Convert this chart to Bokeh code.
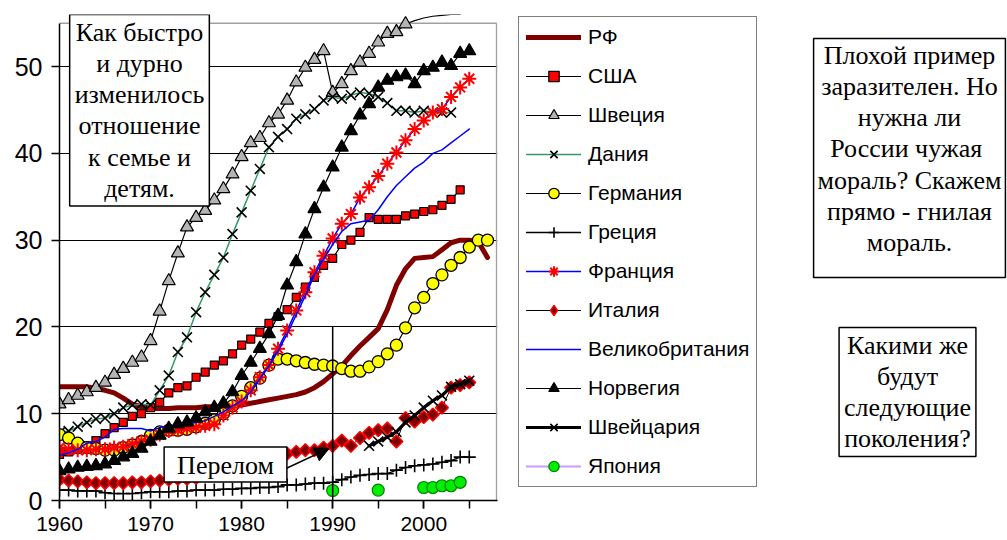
import math
from bokeh.plotting import figure
from bokeh.layouts import row
from bokeh.models import (Range1d, FixedTicker, Legend, LegendItem, Label, Arrow, NormalHead)
from bokeh.embed import file_html
from bokeh.resources import INLINE

# ---------------- data (share of births outside marriage, %) ----------------
YEARS_RF = list(range(1960, 2008))
RF = [13.1, 13.1, 13.1, 13.1, 12.9, 12.7, 12.4, 11.8, 11.1, 10.8,
      10.6, 10.6, 10.6, 10.7, 10.7, 10.7, 10.8, 10.8, 10.8, 10.9,
      11.0, 11.2, 11.4, 11.6, 11.8, 12.0, 12.2, 12.5, 13.0, 13.7,
      14.6, 15.5, 16.7, 17.8, 18.8, 19.8, 22.0, 24.8, 26.7, 27.9,
      28.0, 28.1, 28.9, 29.7, 30.0, 30.0, 29.8, 28.0]

YEARS_USA = list(range(1960, 2005))
USA = [5.3, 5.6, 5.9, 6.3, 6.9, 7.7, 8.4, 9.0, 9.7, 10.0,
       10.7, 11.3, 12.4, 13.0, 13.2, 14.2, 14.8, 15.6, 16.1, 16.9,
       17.9, 18.6, 19.4, 20.4, 21.2, 22.0, 23.4, 24.6, 25.7, 27.1,
       27.9, 29.5, 30.0, 30.9, 32.6, 32.4, 32.4, 32.4, 32.8, 33.0,
       33.3, 33.5, 34.0, 34.7, 35.8]

YEARS_SWE = list(range(1960, 2005))
SWE = [11.1, 11.6, 12.1, 12.5, 13.0, 13.6, 14.5, 15.2, 15.9, 16.5,
       18.4, 21.8, 25.3, 28.5, 31.5, 32.6, 33.4, 34.6, 35.9, 37.6,
       39.6, 41.2, 41.8, 43.5, 44.5, 46.1, 48.2, 49.9, 50.8, 51.8,
       47.0, 48.0, 49.5, 50.5, 51.5, 52.8, 53.8, 54.0, 54.9, 55.3,
       55.6, 55.8, 55.9, 56.0, 56.0]
SWE_LAST_MARKER_YEAR = 1998

YEARS_DEN = list(range(1960, 2004))
DEN = [7.8, 8.0, 8.5, 9.0, 9.4, 9.5, 10.0, 10.7, 11.0, 11.1,
       11.0, 12.7, 14.4, 17.1, 18.8, 21.7, 24.0, 26.0, 28.0, 30.7,
       33.2, 35.7, 38.2, 40.7, 41.9, 42.8, 44.0, 44.5, 45.1, 46.1,
       46.5, 46.3, 46.7, 47.0, 46.9, 46.5, 45.8, 44.9, 44.9, 44.7,
       44.9, 44.7, 44.7, 44.7]

YEARS_GER = list(range(1960, 2008))
GER = [7.6, 7.2, 6.6, 6.1, 6.0, 5.8, 5.8, 6.1, 6.4, 6.8,
       7.5, 7.9, 8.1, 8.1, 8.2, 8.5, 8.9, 9.3, 10.0, 10.9,
       12.0, 13.0, 14.1, 15.6, 16.3, 16.3, 16.1, 15.9, 15.7, 15.6,
       15.5, 15.2, 14.9, 14.9, 15.4, 16.0, 16.9, 17.9, 19.9, 22.2,
       23.4, 25.0, 26.0, 27.1, 28.0, 29.2, 30.0, 30.0]

YEARS_GRE = list(range(1960, 2006))
GRE = [1.2, 1.2, 1.1, 1.1, 1.1, 0.9, 0.8, 0.8, 0.8, 0.9,
       1.0, 1.0, 1.0, 1.1, 1.1, 1.2, 1.2, 1.2, 1.3, 1.3,
       1.4, 1.4, 1.5, 1.5, 1.6, 1.8, 1.8, 1.9, 2.0, 2.0,
       2.1, 2.4, 2.7, 2.9, 3.0, 3.1, 3.1, 3.5, 3.8, 4.0,
       4.1, 4.2, 4.4, 4.6, 5.0, 5.0]

YEARS_FRA = list(range(1960, 2006))
FRA = [6.1, 5.9, 5.8, 5.8, 5.9, 5.9, 6.1, 6.2, 6.5, 6.8,
       7.0, 7.6, 8.0, 8.1, 8.3, 8.4, 8.6, 8.8, 9.8, 10.7,
       11.4, 12.7, 14.2, 15.6, 17.5, 19.6, 21.9, 24.0, 26.3, 28.2,
       30.2, 31.9, 33.0, 34.9, 36.1, 37.4, 38.8, 40.1, 41.5, 42.8,
       43.8, 44.7, 45.1, 46.5, 47.6, 48.6]

YEARS_ITA = list(range(1960, 2006))
ITA = [2.4, 2.3, 2.2, 2.1, 2.0, 2.0, 2.0, 2.0, 2.1, 2.1,
       2.2, 2.3, 2.4, 2.5, 2.5, 2.6, 2.9, 3.2, 3.6, 4.0,
       4.3, 4.5, 4.8, 5.0, 5.1, 5.4, 5.6, 5.8, 5.8, 6.1,
       6.3, 6.9, 6.3, 7.2, 7.8, 8.1, 8.3, 6.8, 9.5, 9.1,
       9.6, 9.9, 10.7, 13.0, 13.3, 13.6]

YEARS_UK = list(range(1960, 2006))
UK = [5.2, 5.5, 5.9, 6.6, 6.8, 7.3, 8.2, 8.3, 8.3, 8.3,
      8.0, 8.4, 8.6, 8.6, 8.8, 9.0, 9.2, 9.7, 10.2, 10.9,
      11.5, 12.5, 14.0, 15.5, 17.2, 19.2, 21.4, 23.6, 26.0, 27.8,
      29.5, 31.0, 31.9, 32.1, 32.3, 33.5, 35.0, 36.3, 37.3, 38.3,
      39.0, 40.0, 40.4, 41.2, 42.0, 42.8]

YEARS_NOR = list(range(1960, 2006))
NOR = [3.4, 3.6, 3.8, 3.9, 4.0, 4.2, 4.6, 5.0, 5.4, 6.0,
       6.8, 7.5, 8.3, 8.8, 9.0, 9.5, 10.2, 10.7, 11.2, 12.5,
       14.4, 15.9, 17.5, 19.2, 21.3, 24.8, 27.5, 30.7, 33.6, 36.1,
       38.4, 40.7, 42.6, 44.4, 45.7, 47.6, 48.4, 48.8, 49.0, 48.0,
       49.5, 49.9, 50.5, 50.1, 51.5, 51.8]

YEARS_SUI = list(range(1994, 2006))
SUI = [6.3, 6.8, 7.3, 7.9, 9.0, 9.8, 10.7, 11.5, 12.1, 13.1, 13.4, 13.8]

YEARS_JPN = [1990, 1995, 2000, 2001, 2002, 2003, 2004]
JPN = [1.15, 1.2, 1.5, 1.5, 1.7, 1.7, 2.1]

NAMES = ["РФ", "США", "Швеция", "Дания", "Германия", "Греция", "Франция",
         "Италия", "Великобритания", "Норвегия", "Швейцария", "Япония"]

X_TICKS = [1960, 1970, 1980, 1990, 2000]
X_MINOR = [1960, 1965, 1970, 1975, 1980, 1985, 1990, 1995, 2000, 2005]
Y_TICKS = [0, 10, 20, 30, 40, 50]
X_START, X_END = 1960, 2008      # plot-area frame (grey border)
Y_TOP = 55

BREAK_YEAR = 1990      # "Перелом" vertical marker
BREAK_TOP = 20
ARROW_FROM = (1984.7, 3.6)
ARROW_TO = (1989.6, 6.0)

TEXT_LEFT = "Как быстро\nи дурно\nизменилось\nотношение\nк семье и\nдетям."
TEXT_RIGHT1 = ("Плохой пример\nзаразителен. Но\nнужна ли\nРоссии  чужая\n"
               "мораль? Скажем\nпрямо - гнилая\nмораль.")
TEXT_RIGHT2 = "Какими же\nбудут\nследующие\nпоколения?"
TEXT_BREAK = "Перелом"

SERIF = "Liberation Serif"
SANS = "Liberation Sans"
NAN = float("nan")

BORDER_TOP, BORDER_BOTTOM = 14, 40

# ---------------- main figure ----------------
p = figure(width=505, height=540, output_backend="svg", toolbar_location=None,
           x_range=Range1d(X_START, X_END + 0.1), y_range=Range1d(0, 56),
           min_border_left=59, min_border_right=8,
           min_border_top=BORDER_TOP, min_border_bottom=BORDER_BOTTOM)
p.background_fill_color = "white"
p.border_fill_color = "white"
p.outline_line_color = None

p.xgrid.visible = False
p.ygrid.ticker = FixedTicker(ticks=Y_TICKS[1:])
p.ygrid.grid_line_color = "black"
p.ygrid.grid_line_width = 1.2

for ax in (p.xaxis[0], p.yaxis[0]):
    ax.axis_line_color = "black"
    ax.axis_line_width = 1.5
    ax.major_tick_line_color = "black"
    ax.major_tick_line_width = 1.5
    ax.major_tick_in = 0
    ax.major_tick_out = 8
    ax.major_label_text_font = SANS
    ax.major_label_text_color = "black"

p.xaxis.ticker = FixedTicker(ticks=X_TICKS, minor_ticks=X_MINOR)
p.xaxis.minor_tick_line_color = "black"
p.xaxis.minor_tick_line_width = 1.5
p.xaxis.minor_tick_in = 0
p.xaxis.minor_tick_out = 8
p.xaxis.major_label_standoff = 8
p.xaxis.major_label_text_font_size = "21px"
p.yaxis.ticker = FixedTicker(ticks=Y_TICKS)
p.yaxis.bounds = (0, Y_TOP)
p.yaxis.minor_tick_line_color = None
p.yaxis.major_label_standoff = 9
p.yaxis.major_label_text_font_size = "25px"

# grey plot-area border (top and right)
p.segment(x0=[X_START, X_END], y0=[Y_TOP, 0], x1=[X_END, X_END], y1=[Y_TOP, Y_TOP],
          line_color="#a0a0a0", line_width=1.5)

STYLES = [
    dict(lc="#800000", lw=5),
    dict(lc="black", lw=1.2, m="square", ms=8, fc="#ff0000", ml="black", mlw=1.2),
    dict(lc="black", lw=1.2, m="triangle", ms=13, fc="#b4b4b4", ml="black", mlw=1.2),
    dict(lc="#339966", lw=1.5, m="x", ms=14, fc=None, ml="black", mlw=1.6),
    dict(lc="black", lw=1.2, m="circle", ms=12, fc="#ffff00", ml="black", mlw=1.3),
    dict(lc="black", lw=1.3, m="cross", ms=13, fc=None, ml="black", mlw=1.6),
    dict(lc="#0000ff", lw=1.5, m="asterisk", ms=14, fc=None, ml="#ff0000", mlw=2),
    dict(lc="black", lw=1.0, m="square", ms=9, fc="#800000", ml="#ff0000", mlw=1.5, ang=math.pi / 4),
    dict(lc="#0000ff", lw=1.5),
    dict(lc="black", lw=1.2, m="triangle", ms=13, fc="black", ml="black", mlw=1.2),
    dict(lc="black", lw=3.2, m="x", ms=14, fc=None, ml="black", mlw=1.6),
    dict(lc="#cc99ff", lw=2, m="circle", ms=12, fc="#00ee00", ml="#008000", mlw=1.2),
]

def draw(fig, st, lx, ly, mx=None, my=None, legend_glyph=False):
    rs = [fig.line(lx, ly, line_color=st["lc"], line_width=st["lw"],
                   line_cap="round", line_join="round")]
    if "m" in st:
        sx = lx if mx is None else mx
        sy = ly if my is None else my
        marker = st["m"]
        if legend_glyph and st.get("ang"):
            marker = "diamond"   # legend swatches ignore the rotation
        rs.append(fig.scatter(sx, sy, marker=marker, size=st["ms"], fill_color=st["fc"],
                              line_color=st["ml"], line_width=st["mlw"],
                              angle=[st.get("ang", 0.0)] * len(sx)))
    return rs

swe_mx = [y for y in YEARS_SWE if y <= SWE_LAST_MARKER_YEAR]
swe_my = SWE[:len(swe_mx)]

# Japan: line only between consecutive years
jx, jy = [], []
for i, (yr, v) in enumerate(zip(YEARS_JPN, JPN)):
    if i > 0 and yr - YEARS_JPN[i - 1] > 1:
        jx.append(NAN); jy.append(NAN)
    jx.append(yr); jy.append(v)

draw(p, STYLES[0], YEARS_RF, RF)
draw(p, STYLES[1], YEARS_USA, USA)
draw(p, STYLES[2], YEARS_SWE, SWE, swe_mx, swe_my)
draw(p, STYLES[3], YEARS_DEN, DEN)
draw(p, STYLES[4], YEARS_GER, GER)
draw(p, STYLES[5], YEARS_GRE, GRE)
draw(p, STYLES[6], YEARS_FRA, FRA)
draw(p, STYLES[7], YEARS_ITA, ITA)
draw(p, STYLES[8], YEARS_UK, UK)
draw(p, STYLES[9], YEARS_NOR, NOR)
draw(p, STYLES[10], YEARS_SUI, SUI)
draw(p, STYLES[11], jx, jy, YEARS_JPN, JPN)

# "Перелом" marker
p.segment(x0=[BREAK_YEAR], y0=[0], x1=[BREAK_YEAR], y1=[BREAK_TOP],
          line_color="black", line_width=1.5)
p.add_layout(Arrow(end=NormalHead(size=14, fill_color="black", line_color="black"),
                   x_start=ARROW_FROM[0], y_start=ARROW_FROM[1],
                   x_end=ARROW_TO[0], y_end=ARROW_TO[1],
                   line_color="black", line_width=1.5))

def box(fig, text, x, y, pad, baseline="top", lh=1.08):
    fig.add_layout(Label(x=x, y=y, x_units="screen", y_units="screen", text=text,
                         text_font=SERIF, text_font_size="26px",
                         text_color="black", text_align="center", text_baseline=baseline,
                         text_line_height=lh,
                         background_fill_color="white", background_fill_alpha=1.0,
                         border_line_color="black", border_line_width=1.5,
                         padding=pad))

box(p, TEXT_LEFT, 80, 486, dict(left=5, right=5, top=3, bottom=3))
box(p, TEXT_BREAK, 166, 36, dict(left=13, right=13, top=4, bottom=2), baseline="middle")

# ---------------- right panel: legend + comments ----------------
q = figure(width=502, height=540, output_backend="svg", toolbar_location=None,
           x_range=Range1d(0, 1), y_range=Range1d(0, 1),
           x_axis_type=None, y_axis_type=None,
           min_border_left=0, min_border_right=0,
           min_border_top=BORDER_TOP, min_border_bottom=BORDER_BOTTOM)
q.outline_line_color = None
q.background_fill_color = "white"
q.border_fill_color = "white"
q.grid.visible = False

items = []
for name, st in zip(NAMES, STYLES):
    items.append(LegendItem(label=name,
                            renderers=draw(q, st, [NAN], [NAN], legend_glyph=True)))

legend = Legend(items=items, location=(13, 13), orientation="vertical")
legend.label_text_font = SANS
legend.label_text_font_size = "21px"
legend.label_text_color = "black"
legend.glyph_width = 55
legend.glyph_height = 26
legend.label_height = 24
legend.label_standoff = 7
legend.spacing = 13
legend.padding = 7
legend.margin = 0
legend.border_line_color = "black"
legend.border_line_width = 1.5
legend.background_fill_color = "white"
legend.background_fill_alpha = 1.0
q.add_layout(legend)

box(q, TEXT_RIGHT1, 404, 462, dict(left=4, right=4, top=2, bottom=20))
box(q, TEXT_RIGHT2, 402, 173, dict(left=5, right=5, top=3, bottom=3))

open("out.html", "w").write(file_html(row(p, q), INLINE))
